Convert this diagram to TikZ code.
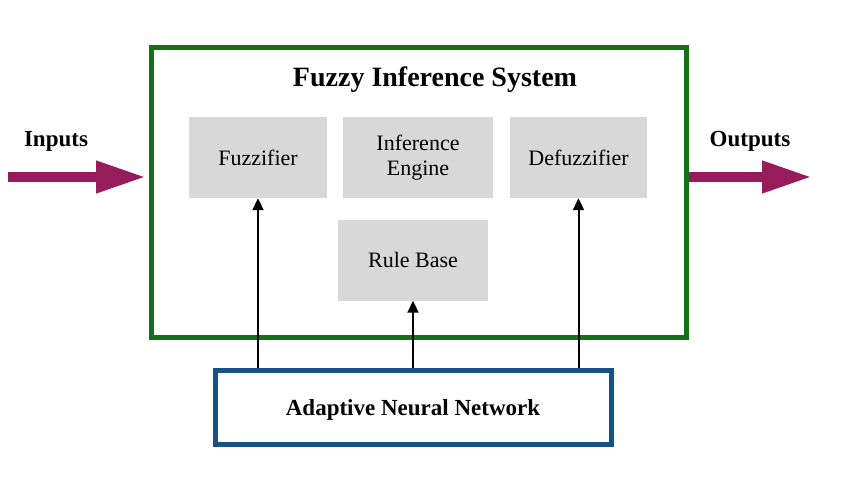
\documentclass[tikz,border=0pt]{standalone}
\usepackage{fontspec}
\setmainfont{Liberation Serif}
\usetikzlibrary{arrows.meta}
\definecolor{fisgreen}{RGB}{22,112,26}
\definecolor{annblue}{RGB}{22,82,132}
\definecolor{iomag}{RGB}{150,28,92}
\definecolor{boxgray}{RGB}{216,216,216}
\tikzset{
  graybox/.style={fill=boxgray,draw=none,minimum width=#1,minimum height=81pt,inner sep=0pt,align=center,font=\fontsize{22}{25}\selectfont},
  graybox/.default=140pt,
  bigarrow/.style={draw=iomag,line width=10pt,-{Triangle[length=50pt,width=30pt]}},
  upar/.style={draw=black,line width=2pt,-{Triangle[length=12pt,width=11pt]}},
  lbl/.style={font=\bfseries\fontsize{23}{27}\selectfont}
}
\begin{document}
\begin{tikzpicture}[x=1pt,y=-1pt]
\useasboundingbox (0,0) rectangle (850,484);
\node[draw=fisgreen,line width=5pt,minimum width=535pt,minimum height=289pt,inner sep=0pt] (fis) at (418.5,192.5) {};
\node[font=\bfseries\fontsize{28}{32}\selectfont] (title) at (435,80) {Fuzzy Inference System};
\node[graybox=138pt] (fuzz) at (258,157.5) {Fuzzifier};
\node[graybox=150pt] (inf) at (418,157.5) {Inference\\Engine};
\node[graybox=137pt] (defuzz) at (578.5,157.5) {Defuzzifier};
\node[graybox=150pt] (rule) at (413,260) {Rule Base};
\node[draw=annblue,line width=5pt,minimum width=396pt,minimum height=74pt,inner sep=0pt] (ann) at (413,407) {};
\node[lbl] (annlbl) at (413,410) {Adaptive Neural Network};
\node[lbl] (inlbl) at (56,141) {Inputs};
\node[lbl] (outlbl) at (750,141) {Outputs};
\coordinate (instart) at (8,177);
\coordinate (outend) at (812,177);
\coordinate (outstart) at (688.5,177);
\draw[bigarrow] (instart) -- ([xshift=-2.5pt]fis.west |- instart);
\draw[bigarrow] (outstart) -- (outend);
\draw[upar] (ann.north -| fuzz.south) -- (fuzz.south);
\draw[upar] (ann.north -| rule.south) -- (rule.south);
\draw[upar] (ann.north -| defuzz.south) -- (defuzz.south);
\end{tikzpicture}
\end{document}
